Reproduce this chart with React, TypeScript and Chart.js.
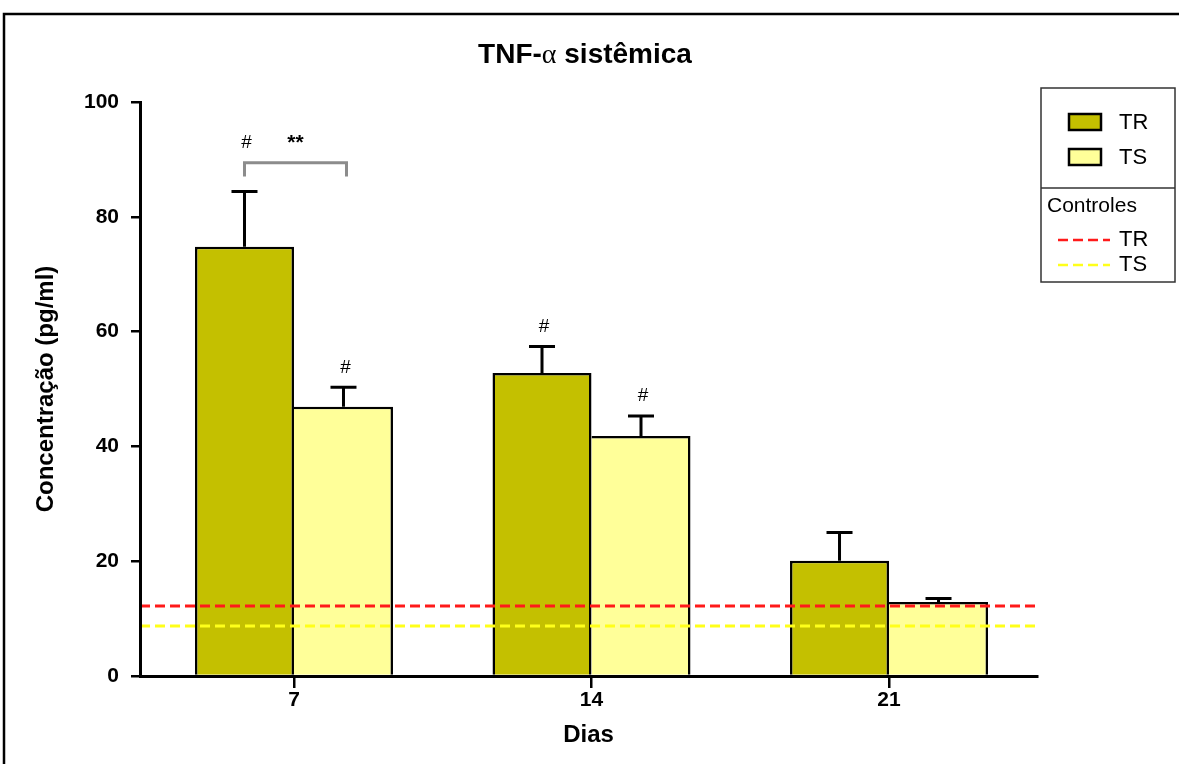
import { useEffect, useRef } from 'react';
import { Chart, registerables } from 'chart.js';

Chart.register(...registerables);

// Days after treatment
const days = ['7', '14', '21'];
// Mean TNF-α concentration (pg/ml) and SEM per group
const trMeans = [74.8, 52.8, 20.1];
const trSem = [9.6, 4.6, 4.9];
const tsMeans = [46.9, 41.8, 12.9];
const tsSem = [3.4, 3.5, 0.6];
// Control group levels
const controlTR = 12.2;
const controlTS = 8.7;
// Y axis ticks
const yTicks = [0, 20, 40, 60, 80, 100];
// Significance marks
const hashTR = [true, true, false];
const hashTS = [true, true, false];
const bracketDay = 0;
const bracketTop = 89.4;
const bracketBottom = 87.0;
const bracketLabel = '**';

const FONT = '"Liberation Sans", Arial, Helvetica, sans-serif';
const TR_FILL = '#c4c000';
const TS_FILL = '#ffff99';
const TR_LINE = '#ff1a1a';
const TS_LINE = '#ffff1a';

const framePlugin = {
  id: 'frame',
  beforeDraw(chart: any) {
    const { ctx, width, height } = chart;
    ctx.save();
    ctx.fillStyle = '#ffffff';
    ctx.fillRect(0, 0, width, height);
    ctx.strokeStyle = '#000';
    ctx.lineWidth = 2.5;
    ctx.beginPath();
    ctx.moveTo(4, height + 5);
    ctx.lineTo(4, 14);
    ctx.lineTo(width + 5, 14);
    ctx.stroke();
    ctx.restore();
  },
};

const titlePlugin = {
  id: 'mixedTitle',
  afterDraw(chart: any) {
    const { ctx } = chart;
    const parts = [
      { text: 'TNF-', font: `bold 28px ${FONT}` },
      { text: 'α', font: '28px "Liberation Serif", "DejaVu Serif", serif' },
      { text: ' sistêmica', font: `bold 28px ${FONT}` },
    ];
    ctx.save();
    ctx.fillStyle = '#000';
    ctx.textBaseline = 'alphabetic';
    ctx.textAlign = 'left';
    let total = 0;
    const widths = parts.map((p) => {
      ctx.font = p.font;
      const w = ctx.measureText(p.text).width;
      total += w;
      return w;
    });
    let x = 585 - total / 2;
    parts.forEach((p, i) => {
      ctx.font = p.font;
      ctx.fillText(p.text, x, 63);
      x += widths[i];
    });
    ctx.restore();
  },
};

// Keeps the day groups a little left of centre along the axis
const xLayoutPlugin = {
  id: 'xLayout',
  afterLayout(chart: any) {
    const x = chart.scales.x;
    x._startValue = -0.5176;
    x._valueRange = 3.015;
  },
};

const errorBarPlugin = {
  id: 'errorBars',
  afterDatasetsDraw(chart: any) {
    const { ctx } = chart;
    const y = chart.scales.y;
    const sems = [trSem, tsSem];
    const means = [trMeans, tsMeans];
    ctx.save();
    ctx.strokeStyle = '#000';
    ctx.lineWidth = 3;
    [0, 1].forEach((di) => {
      const meta = chart.getDatasetMeta(di);
      meta.data.forEach((bar: any, i: number) => {
        const top = y.getPixelForValue(means[di][i]);
        const end = y.getPixelForValue(means[di][i] + sems[di][i]);
        ctx.beginPath();
        ctx.moveTo(bar.x, top);
        ctx.lineTo(bar.x, end);
        ctx.moveTo(bar.x - 13, end);
        ctx.lineTo(bar.x + 13, end);
        ctx.stroke();
      });
    });

    // Control reference lines
    const { left, right } = chart.chartArea;
    ctx.setLineDash([10, 5]);
    ctx.lineWidth = 3;
    [
      { v: controlTS, c: TS_LINE },
      { v: controlTR, c: TR_LINE },
    ].forEach(({ v, c }) => {
      const py = y.getPixelForValue(v);
      ctx.strokeStyle = c;
      ctx.beginPath();
      ctx.moveTo(left, py);
      ctx.lineTo(right, py);
      ctx.stroke();
    });
    ctx.restore();
  },
};

const annotationPlugin = {
  id: 'significance',
  afterDraw(chart: any) {
    const { ctx } = chart;
    const y = chart.scales.y;
    const trMeta = chart.getDatasetMeta(0);
    const tsMeta = chart.getDatasetMeta(1);
    ctx.save();
    ctx.fillStyle = '#000';
    ctx.textAlign = 'center';
    ctx.textBaseline = 'middle';
    ctx.font = `19px ${FONT}`;

    const bTop = y.getPixelForValue(bracketTop);
    const bBottom = y.getPixelForValue(bracketBottom);
    days.forEach((_, i) => {
      if (hashTR[i]) {
        const base = i === bracketDay ? bTop : y.getPixelForValue(trMeans[i] + trSem[i]);
        ctx.fillText('#', trMeta.data[i].x + 2, base - 20);
      }
      if (hashTS[i]) {
        ctx.fillText('#', tsMeta.data[i].x + 2, y.getPixelForValue(tsMeans[i] + tsSem[i]) - 20);
      }
    });

    // Bracket between TR and TS on the marked day
    const x1 = trMeta.data[bracketDay].x;
    const x2 = tsMeta.data[bracketDay].x + 3;
    ctx.strokeStyle = '#8c8c8c';
    ctx.lineWidth = 3;
    ctx.beginPath();
    ctx.moveTo(x1, bBottom);
    ctx.lineTo(x1, bTop);
    ctx.lineTo(x2, bTop);
    ctx.lineTo(x2, bBottom);
    ctx.stroke();
    ctx.font = `bold 21px ${FONT}`;
    ctx.fillText(bracketLabel, (x1 + x2) / 2, bTop - 20);
    ctx.restore();
  },
};

const legendPlugin = {
  id: 'boxLegend',
  afterDraw(chart: any) {
    const { ctx } = chart;
    const ds = chart.data.datasets;
    ctx.save();
    ctx.strokeStyle = '#333';
    ctx.lineWidth = 1.5;
    ctx.strokeRect(1041, 88, 134, 194);
    ctx.beginPath();
    ctx.moveTo(1041, 188);
    ctx.lineTo(1175, 188);
    ctx.stroke();

    ctx.font = `22px ${FONT}`;
    ctx.fillStyle = '#000';
    ctx.textAlign = 'left';
    ctx.textBaseline = 'middle';
    const rows = [
      { y: 122, fill: ds[0].backgroundColor, label: ds[0].label },
      { y: 157, fill: ds[1].backgroundColor, label: ds[1].label },
    ];
    rows.forEach((r) => {
      ctx.fillStyle = r.fill;
      ctx.fillRect(1069, r.y - 8, 32, 16);
      ctx.strokeStyle = '#000';
      ctx.lineWidth = 2.5;
      ctx.strokeRect(1069, r.y - 8, 32, 16);
      ctx.fillStyle = '#000';
      ctx.fillText(r.label, 1119, r.y + 1);
    });

    ctx.font = `21px ${FONT}`;
    ctx.fillText('Controles', 1047, 206);
    ctx.font = `22px ${FONT}`;
    const lines = [
      { y: 240, c: TR_LINE, label: ds[0].label },
      { y: 265, c: TS_LINE, label: ds[1].label },
    ];
    lines.forEach((l) => {
      ctx.strokeStyle = l.c;
      ctx.lineWidth = 2.5;
      ctx.setLineDash([10, 5]);
      ctx.beginPath();
      ctx.moveTo(1058, l.y);
      ctx.lineTo(1110, l.y);
      ctx.stroke();
      ctx.setLineDash([]);
      ctx.fillStyle = '#000';
      ctx.fillText(l.label, 1119, l.y);
    });
    ctx.restore();
  },
};

export default function App() {
  const canvasRef = useRef<HTMLCanvasElement | null>(null);

  useEffect(() => {
    const canvas = canvasRef.current;
    if (!canvas) return;
    const chart = new Chart(canvas, {
      type: 'bar',
      data: {
        labels: days,
        datasets: [
          {
            label: 'TR',
            data: trMeans,
            backgroundColor: TR_FILL,
            borderColor: '#000',
            borderWidth: { top: 2.5, left: 2.5, right: 2.5, bottom: 0 },
            borderSkipped: false,
            categoryPercentage: 0.6655,
            barPercentage: 1,
          },
          {
            label: 'TS',
            data: tsMeans,
            backgroundColor: TS_FILL,
            borderColor: '#000',
            borderWidth: { top: 2.5, left: 0, right: 2.5, bottom: 0 },
            borderSkipped: false,
            categoryPercentage: 0.6655,
            barPercentage: 1,
          },
        ],
      },
      options: {
        responsive: false,
        maintainAspectRatio: false,
        animation: false,
        devicePixelRatio: 1,
        layout: { padding: { top: 102, left: 0, right: 142, bottom: 0 } },
        plugins: {
          legend: { display: false },
          title: { display: false },
          tooltip: { enabled: false },
        },
        scales: {
          x: {
            type: 'category',
            offset: true,
            grid: {
              display: true,
              drawOnChartArea: false,
              drawTicks: true,
              tickLength: 12,
              offset: false,
              color: '#000',
              lineWidth: 2.5,
            },
            border: { display: true, color: '#000', width: 3, z: 1 },
            ticks: {
              color: '#000',
              font: { family: FONT, size: 21, weight: 'bold' },
              padding: 0,
              maxRotation: 0,
            },
            title: {
              display: true,
              text: 'Dias',
              color: '#000',
              font: { family: FONT, size: 24, weight: 'bold' },
              padding: { top: 0, bottom: 14 },
            },
            afterFit: (s: any) => {
              s.height = 88;
            },
          },
          y: {
            min: 0,
            max: 100,
            grid: {
              display: true,
              drawOnChartArea: false,
              drawTicks: true,
              tickLength: 9,
              color: '#000',
              lineWidth: 2.5,
            },
            border: { display: true, color: '#000', width: 3, z: 1 },
            ticks: {
              color: '#000',
              font: { family: FONT, size: 21, weight: 'bold' },
              padding: 12,
            },
            afterBuildTicks: (s: any) => {
              s.ticks = yTicks.map((v) => ({ value: v }));
            },
            title: {
              display: true,
              text: 'Concentração (pg/ml)',
              color: '#000',
              font: { family: FONT, size: 24, weight: 'bold' },
              padding: { top: 32, bottom: 0 },
            },
            afterFit: (s: any) => {
              s.width = 140;
            },
          },
        },
      },
      plugins: [xLayoutPlugin, framePlugin, errorBarPlugin, annotationPlugin, legendPlugin, titlePlugin],
    } as any);
    return () => chart.destroy();
  }, []);

  return (
    <div
      style={{
        position: 'fixed',
        left: 0,
        top: 0,
        width: 1179,
        height: 764,
        background: '#fff',
        overflow: 'hidden',
      }}
    >
      <canvas ref={canvasRef} width={1179} height={764} style={{ display: 'block' }} />
    </div>
  );
}
